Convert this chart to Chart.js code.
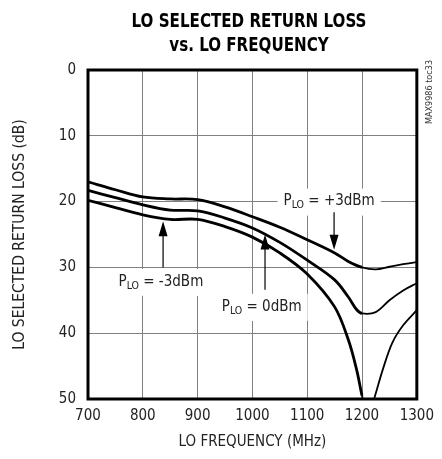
<!DOCTYPE html>
<html>
<head>
<meta charset="utf-8">
<script src="https://cdn.jsdelivr.net/npm/chart.js@4.4.1/dist/chart.umd.min.js"></script>
<style>
  html, body { margin: 0; padding: 0; background: #fff; }
  #wrap { width: 442px; height: 459px; position: relative; }
</style>
</head>
<body>
<div id="wrap"><canvas id="rlChart"></canvas></div>
<script>
// valores (MHz / dB)
const freqP3 = [700, 750, 800, 850, 900, 950, 1000, 1050, 1100, 1150, 1175, 1200, 1225, 1250, 1275, 1300];
const rlP3   = [17.0, 18.2, 19.3, 19.6, 19.7, 20.8, 22.3, 23.9, 25.8, 27.8, 29.1, 30.0, 30.3, 29.9, 29.5, 29.2];

const freqP0 = [700, 750, 800, 850, 900, 950, 1000, 1050, 1100, 1150, 1175, 1190, 1200, 1225, 1250, 1275, 1300];
const rlP0   = [18.3, 19.4, 20.5, 21.3, 21.4, 22.5, 24.0, 26.2, 28.9, 31.9, 34.5, 36.4, 37.0, 36.8, 35.0, 33.5, 32.4];

const freqM3 = [700, 750, 800, 850, 900, 950, 1000, 1050, 1100, 1150, 1175, 1190, 1200, 1210, 1222, 1238, 1255, 1275, 1300];
const rlM3   = [19.8, 20.9, 22.0, 22.7, 22.7, 23.8, 25.4, 27.8, 31.0, 36.0, 41.0, 45.5, 49.5, 53.0, 50.0, 45.5, 41.5, 38.8, 36.5];

const xTicks = [700, 800, 900, 1000, 1100, 1200, 1300];
const yTicks = [0, 10, 20, 30, 40, 50];

const FONTE = "'DejaVu Sans Condensed', 'Liberation Sans Narrow', 'Roboto', sans-serif";

function montarPontos(xs, ys) {
    return xs.map((x, i) => ({ x: x, y: ys[i] }));
}

// legendas com seta: texto, posição do texto e da seta em unidades do gráfico
const rotulos = [
    { valor: ' = +3dBm', tx: 1140, ty: 20.0, ax: 1149, a0: 21.6, a1: 27.3 },
    { valor: ' = -3dBm', tx: 833,  ty: 32.2, ax: 837,  a0: 30.0, a1: 23.0 },
    { valor: ' = 0dBm',  tx: 1017, ty: 36.0, ax: 1023, a0: 33.4, a1: 25.0 }
];

const pluginMoldura = {
    id: 'moldura',
    afterDatasetsDraw(chart) {
        const ctx = chart.ctx;
        const xs = chart.scales.x, ys = chart.scales.y;
        ctx.save();
        rotulos.forEach(r => {
            const cx = xs.getPixelForValue(r.tx);
            const cy = ys.getPixelForValue(r.ty);
            ctx.font = '15px ' + FONTE;
            const wP = ctx.measureText('P').width;
            const wRest = ctx.measureText(r.valor).width;
            ctx.font = '10.5px ' + FONTE;
            const wSub = ctx.measureText('LO').width;
            const total = wP + wSub + wRest;
            const x0 = cx - total / 2;
            // caixa branca por cima da grade
            ctx.fillStyle = '#fff';
            ctx.fillRect(x0 - 6, cy - 13, total + 12, 27);
            ctx.fillStyle = '#222';
            ctx.textBaseline = 'middle';
            ctx.textAlign = 'left';
            ctx.font = '15px ' + FONTE;
            ctx.fillText('P', x0, cy);
            ctx.font = '10.5px ' + FONTE;
            ctx.fillText('LO', x0 + wP, cy + 4);
            ctx.font = '15px ' + FONTE;
            ctx.fillText(r.valor, x0 + wP + wSub, cy);

            // seta
            const ax = xs.getPixelForValue(r.ax);
            const y0 = ys.getPixelForValue(r.a0);
            const y1 = ys.getPixelForValue(r.a1);
            const dir = y1 > y0 ? 1 : -1;
            ctx.strokeStyle = '#000';
            ctx.lineWidth = 1.2;
            ctx.beginPath();
            ctx.moveTo(ax, y0);
            ctx.lineTo(ax, y1 - dir * 12);
            ctx.stroke();
            ctx.fillStyle = '#000';
            ctx.beginPath();
            ctx.moveTo(ax, y1);
            ctx.lineTo(ax - 4.5, y1 - dir * 15);
            ctx.lineTo(ax + 4.5, y1 - dir * 15);
            ctx.closePath();
            ctx.fill();
        });
        ctx.restore();
    },
    afterDraw(chart) {
        const ctx = chart.ctx;
        const a = chart.chartArea;
        ctx.save();
        ctx.strokeStyle = '#000';
        ctx.lineWidth = 3;
        ctx.strokeRect(a.left, a.top, a.right - a.left, a.bottom - a.top);

        // título em duas linhas (fonte comprimida na horizontal)
        ctx.fillStyle = '#000';
        ctx.textAlign = 'center';
        ctx.textBaseline = 'middle';
        ctx.font = 'bold 20px ' + FONTE;
        ctx.save();
        ctx.translate(249, 0);
        ctx.scale(0.84, 1);
        ctx.fillText('LO SELECTED RETURN LOSS', 0, 22);
        ctx.fillText('vs. LO FREQUENCY', 0, 46);
        ctx.restore();

        // código da figura na vertical
        ctx.translate(430, 92);
        ctx.rotate(-Math.PI / 2);
        ctx.font = '9px ' + FONTE;
        ctx.fillStyle = '#333';
        ctx.fillText('MAX9986 toc33', 0, 0);
        ctx.restore();
    }
};

const estiloLinha = {
    borderColor: '#000',
    backgroundColor: '#000',
    pointRadius: 0,
    fill: false,
    tension: 0.35,
    segment: {
        borderWidth: c => c.p0.parsed.x >= 1195 ? 1.8 : 2.8
    }
};

new Chart(document.getElementById('rlChart'), {
    type: 'line',
    data: {
        datasets: [
            Object.assign({ label: '+3dBm', data: montarPontos(freqP3, rlP3) }, estiloLinha),
            Object.assign({ label: '0dBm', data: montarPontos(freqP0, rlP0) }, estiloLinha),
            Object.assign({ label: '-3dBm', data: montarPontos(freqM3, rlM3) }, estiloLinha)
        ]
    },
    options: {
        responsive: true,
        maintainAspectRatio: false,
        animation: false,
        layout: { padding: { top: 70, right: 25, left: 0, bottom: 0 } },
        plugins: {
            legend: { display: false },
            tooltip: { enabled: false }
        },
        scales: {
            x: {
                type: 'linear',
                min: 700,
                max: 1300,
                afterBuildTicks: s => { s.ticks = xTicks.map(v => ({ value: v })); },
                afterFit: s => { s.height = 60; },
                grid: { color: '#808080', lineWidth: 1, drawTicks: false },
                border: { display: false },
                ticks: {
                    color: '#222',
                    font: { family: FONTE, size: 15 },
                    padding: 8,
                    maxRotation: 0,
                    callback: v => String(v)
                },
                title: {
                    display: true,
                    text: 'LO FREQUENCY (MHz)',
                    color: '#222',
                    font: { family: FONTE, size: 15 },
                    padding: { top: 0, bottom: 8 }
                }
            },
            y: {
                reverse: true,
                min: 0,
                max: 50,
                afterBuildTicks: s => { s.ticks = yTicks.map(v => ({ value: v })); },
                afterFit: s => { s.width = 88; },
                grid: { color: '#808080', lineWidth: 1, drawTicks: false },
                border: { display: false },
                ticks: {
                    color: '#222',
                    font: { family: FONTE, size: 15 },
                    padding: 12,
                    callback: v => String(v)
                },
                title: {
                    display: true,
                    text: 'LO SELECTED RETURN LOSS (dB)',
                    color: '#222',
                    font: { family: FONTE, size: 15.5 },
                    padding: { top: 11, bottom: 0 }
                }
            }
        }
    },
    plugins: [pluginMoldura]
});
</script>
</body>
</html>
